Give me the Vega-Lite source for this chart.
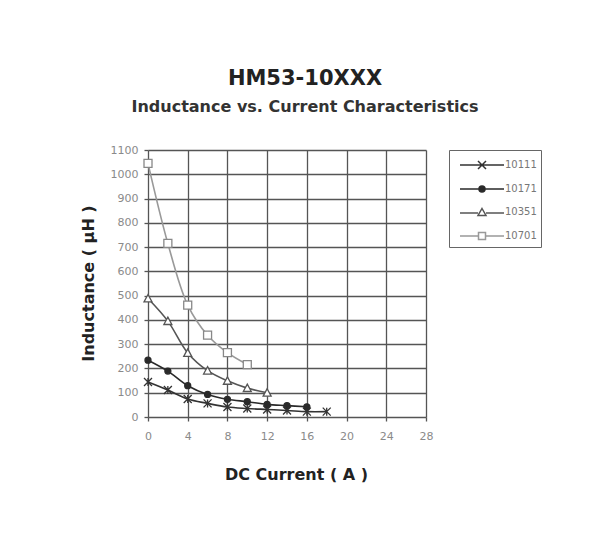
{
  "$schema": "https://vega.github.io/schema/vega-lite/v6.json",
  "width": 278,
  "height": 267,
  "autosize": "none",
  "padding": {"left": 148, "top": 150, "right": 188, "bottom": 126},
  "background": "white",
  "title": {
    "text": "HM53-10XXX",
    "subtitle": "Inductance vs. Current Characteristics",
    "anchor": "middle",
    "frame": "group",
    "dx": 18,
    "offset": 29,
    "font": "DejaVu Sans",
    "fontSize": 21,
    "fontWeight": "bold",
    "color": "#222",
    "subtitleFont": "DejaVu Sans",
    "subtitleFontSize": 16,
    "subtitleFontWeight": "bold",
    "subtitleColor": "#333",
    "subtitlePadding": 10
  },
  "data": {
    "values": [
      {"series": "10111", "current": 0, "inductance": 144},
      {"series": "10111", "current": 2, "inductance": 111},
      {"series": "10111", "current": 4, "inductance": 74},
      {"series": "10111", "current": 6, "inductance": 56},
      {"series": "10111", "current": 8, "inductance": 41},
      {"series": "10111", "current": 10, "inductance": 35},
      {"series": "10111", "current": 12, "inductance": 31},
      {"series": "10111", "current": 14, "inductance": 27},
      {"series": "10111", "current": 16, "inductance": 22},
      {"series": "10111", "current": 18, "inductance": 22},
      {"series": "10171", "current": 0, "inductance": 234},
      {"series": "10171", "current": 2, "inductance": 189},
      {"series": "10171", "current": 4, "inductance": 129},
      {"series": "10171", "current": 6, "inductance": 93},
      {"series": "10171", "current": 8, "inductance": 73},
      {"series": "10171", "current": 10, "inductance": 63},
      {"series": "10171", "current": 12, "inductance": 52},
      {"series": "10171", "current": 14, "inductance": 47},
      {"series": "10171", "current": 16, "inductance": 42},
      {"series": "10351", "current": 0, "inductance": 488},
      {"series": "10351", "current": 2, "inductance": 395},
      {"series": "10351", "current": 4, "inductance": 264},
      {"series": "10351", "current": 6, "inductance": 191},
      {"series": "10351", "current": 8, "inductance": 149},
      {"series": "10351", "current": 10, "inductance": 119},
      {"series": "10351", "current": 12, "inductance": 100},
      {"series": "10701", "current": 0, "inductance": 1045},
      {"series": "10701", "current": 2, "inductance": 715},
      {"series": "10701", "current": 4, "inductance": 461},
      {"series": "10701", "current": 6, "inductance": 337},
      {"series": "10701", "current": 8, "inductance": 265},
      {"series": "10701", "current": 10, "inductance": 216}
    ]
  },
  "encoding": {
    "x": {
      "field": "current",
      "type": "quantitative",
      "scale": {"domain": [0, 28], "nice": false},
      "axis": {
        "title": "DC Current ( A )",
        "values": [0, 4, 8, 12, 16, 20, 24, 28],
        "grid": true,
        "gridColor": "#555",
        "gridWidth": 1.3,
        "gridOpacity": 1,
        "domain": false,
        "tickColor": "#555",
        "tickSize": 4,
        "tickWidth": 1.3,
        "labelFlush": false,
        "labelFont": "DejaVu Sans",
        "labelFontSize": 11,
        "labelColor": "#8a8a8a",
        "labelPadding": 9,
        "titleFont": "DejaVu Sans",
        "titleFontSize": 16,
        "titleFontWeight": "bold",
        "titleColor": "#222",
        "titleBaseline": "alphabetic",
        "titleX": 148,
        "titleY": 62
      }
    },
    "y": {
      "field": "inductance",
      "type": "quantitative",
      "scale": {"domain": [0, 1100], "nice": false},
      "axis": {
        "title": "Inductance ( μH )",
        "values": [0, 100, 200, 300, 400, 500, 600, 700, 800, 900, 1000, 1100],
        "format": "d",
        "grid": true,
        "gridColor": "#555",
        "gridWidth": 1.3,
        "gridOpacity": 1,
        "domain": false,
        "tickColor": "#555",
        "tickSize": 4,
        "tickWidth": 1.3,
        "labelFlush": false,
        "labelFont": "DejaVu Sans",
        "labelFontSize": 11,
        "labelColor": "#8a8a8a",
        "labelPadding": 6,
        "titleFont": "DejaVu Sans",
        "titleFontSize": 16,
        "titleFontWeight": "bold",
        "titleColor": "#222",
        "titleBaseline": "alphabetic",
        "titleAngle": -90,
        "titleX": -55,
        "titleY": 133
      }
    }
  },
  "layer": [
    {
      "mark": {"type": "point", "size": 400, "opacity": 0, "strokeWidth": 1.5},
      "encoding": {
        "shape": {
          "field": "series",
          "type": "nominal",
          "scale": {
            "domain": ["10111", "10171", "10351", "10701"],
            "range": [
              "M-2.2,0H2.2M-0.4,-0.4L0.4,0.4M-0.4,0.4L0.4,-0.4",
              "M-2.2,0H2.2M-0.3,0A0.3,0.3,0,1,0,0.3,0A0.3,0.3,0,1,0,-0.3,0Z",
              "M-2.2,0.1H-0.4M0.4,0.1H2.2M0,-0.35L0.4,0.35L-0.4,0.35Z",
              "M-2.2,0H-0.35M0.35,0H2.2M-0.35,-0.35H0.35V0.35H-0.35Z"
            ]
          },
          "legend": {
            "title": null,
            "orient": "none",
            "legendX": 301,
            "legendY": 0,
            "strokeColor": "#666",
            "padding": 4,
            "symbolSize": 400,
            "symbolOpacity": 1,
            "symbolStrokeWidth": 1.5,
            "symbolOffset": 18,
            "labelFont": "DejaVu Sans",
            "labelFontSize": 10,
            "labelColor": "#777",
            "labelOffset": 12,
            "rowPadding": 6
          }
        },
        "fill": {
          "field": "series",
          "type": "nominal",
          "scale": {"domain": ["10111", "10171", "10351", "10701"], "range": ["#333333", "#2a2a2a", "#ffffff", "#ffffff"]}
        },
        "stroke": {
          "field": "series",
          "type": "nominal",
          "scale": {"domain": ["10111", "10171", "10351", "10701"], "range": ["#333333", "#2a2a2a", "#555555", "#999999"]}
        }
      }
    },
    {
      "mark": {"type": "line", "interpolate": "catmull-rom", "strokeWidth": 1.6},
      "encoding": {
        "stroke": {
          "field": "series",
          "type": "nominal",
          "scale": {"domain": ["10111", "10171", "10351", "10701"], "range": ["#333333", "#2a2a2a", "#555555", "#999999"]},
          "legend": null
        }
      }
    },
    {
      "mark": {"type": "point", "size": 64, "strokeWidth": 1.3, "opacity": 1},
      "encoding": {
        "shape": {
          "field": "series",
          "type": "nominal",
          "scale": {
            "domain": ["10111", "10171", "10351", "10701"],
            "range": [
              "M-1,-1L1,1M-1,1L1,-1M0,-1V1",
              "M-0.75,0A0.75,0.75,0,1,0,0.75,0A0.75,0.75,0,1,0,-0.75,0Z",
              "M0,-1L1,0.85L-1,0.85Z",
              "M-1,-1H1V1H-1Z"
            ]
          },
          "legend": null
        },
        "fill": {
          "field": "series",
          "type": "nominal",
          "scale": {"domain": ["10111", "10171", "10351", "10701"], "range": ["#333333", "#2a2a2a", "#ffffff", "#ffffff"]},
          "legend": null
        },
        "stroke": {
          "field": "series",
          "type": "nominal",
          "scale": {"domain": ["10111", "10171", "10351", "10701"], "range": ["#333333", "#2a2a2a", "#555555", "#888888"]},
          "legend": null
        }
      }
    }
  ],
  "resolve": {"scale": {"shape": "independent", "fill": "independent", "stroke": "independent"}},
  "config": {
    "view": {"stroke": null},
    "font": "DejaVu Sans"
  }
}
